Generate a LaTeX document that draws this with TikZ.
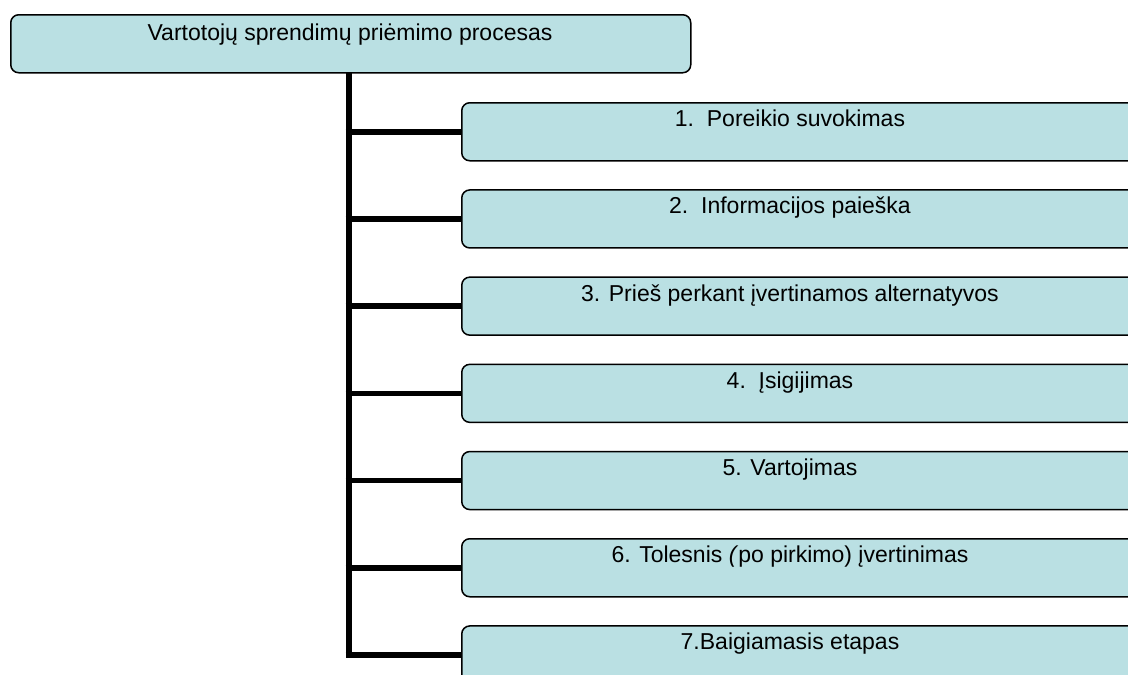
\documentclass[tikz,border=0pt]{standalone}
\usepackage{fontspec}
\setmainfont{Liberation Sans}
\definecolor{boxfill}{RGB}{186,224,227}
\tikzset{
  stagebox/.style={draw=black, line width=1.5pt, fill=boxfill, rounded corners=8pt,
                   minimum height=58pt, inner sep=0pt, anchor=north west},
  stagetext/.style={anchor=base, inner sep=0pt, font=\fontsize{23}{27}\selectfont},
  branch/.style={line width=5.5pt, line join=miter},
  trunkline/.style={line width=6pt}
}
\begin{document}
\begin{tikzpicture}[x=1pt, y=-1pt]
\useasboundingbox (0,0) rectangle (1128,675);
\clip (0,0) rectangle (1128,675);

% heading box
\node[stagebox, minimum width=680pt] (top) at (10,14) {};
\node[stagetext] (toptxt) at (350,40.5) {Vartotojų sprendimų priėmimo procesas};

% stage boxes
\foreach \i/\txt [count=\k from 0] in {
  1/{1.~~Poreikio suvokimas},
  2/{2.~~Informacijos paieška},
  3/{3. Prieš perkant įvertinamos alternatyvos},
  4/{4.~~Įsigijimas},
  5/{5. Vartojimas},
  6/{6. Tolesnis \textit{(}po pirkimo) įvertinimas},
  7/{7.Baigiamasis etapas}} {
  \node[stagebox, minimum width=690pt] (b\i) at (461,102+87.2*\k) {};
  \node[stagetext] (t\i) at (790,126.7+87.2*\k) {\txt};
}

% trunk and branches
\coordinate (trunk) at (348.5,72);
\draw[trunkline] (trunk) -- (trunk |- b7.west);
\foreach \i in {1,...,7} {
  \draw[branch] ([xshift=-3pt]trunk |- b\i.west) -- (b\i.west);
}
\end{tikzpicture}
\end{document}
